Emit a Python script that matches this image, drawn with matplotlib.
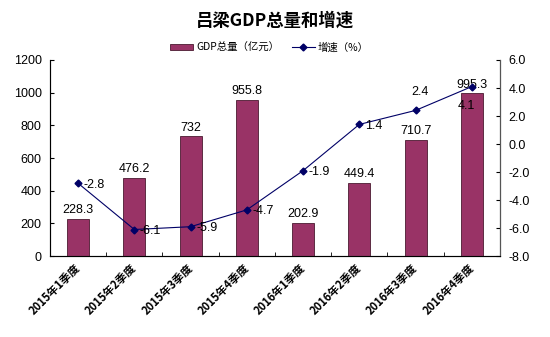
import numpy as np
import matplotlib.pyplot as plt

plt.rcParams['font.family'] = ['Liberation Sans', 'Noto Sans CJK SC', 'DejaVu Sans']

quarters = ['2015年1季度', '2015年2季度', '2015年3季度', '2015年4季度',
            '2016年1季度', '2016年2季度', '2016年3季度', '2016年4季度']
gdp = [228.3, 476.2, 732, 955.8, 202.9, 449.4, 710.7, 995.3]
growth = [-2.8, -6.1, -5.9, -4.7, -1.9, 1.4, 2.4, 4.1]
gdp_text = ['228.3', '476.2', '732', '955.8', '202.9', '449.4', '710.7', '995.3']
growth_text = ['-2.8', '-6.1', '-5.9', '-4.7', '-1.9', '1.4', '2.4', '4.1']

bar_color = '#993366'
line_color = '#000066'
cjk = ['Noto Sans CJK SC', 'DejaVu Sans']

fig = plt.figure(figsize=(5.5, 3.37), dpi=100)
ax1 = fig.add_axes([0.0909, 0.240, 0.818, 0.582])
x = np.arange(len(quarters))

bars = ax1.bar(x, gdp, width=0.39, color=bar_color, edgecolor='#4a1a30',
               linewidth=0.6, zorder=2, label='GDP总量（亿元）')
ax1.set_xlim(-0.5, len(quarters) - 0.5)
ax1.set_ylim(0, 1200)
ax1.set_yticks(range(0, 1201, 200))
ax1.tick_params(axis='y', direction='in', length=3, labelsize=9, pad=6)
ax1.set_xticks(x - 0.08)
ax1.set_xticklabels(quarters, rotation=45, ha='right', rotation_mode='anchor',
                    fontsize=8, fontweight='bold', family=cjk)
ax1.tick_params(axis='x', length=0, pad=4)
ax1.set_xticks(np.arange(0.5, len(quarters) - 0.5, 1), minor=True)
ax1.tick_params(axis='x', which='minor', direction='in', length=3)
ax1.spines['top'].set_visible(False)
for s in ['left', 'bottom']:
    ax1.spines[s].set_color('#555555')

for xi, v, t in zip(x, gdp, gdp_text):
    ax1.text(xi, v + 18, t, ha='center', va='bottom', fontsize=9)

ax2 = ax1.twinx()
ax2.plot(x, growth, color=line_color, linewidth=0.8, marker='D',
         markersize=3.5, zorder=3, label='增速（%）')
ax2.set_ylim(-8, 6)
ax2.set_yticks(np.arange(-8, 6.1, 2))
ax2.set_yticklabels([f'{v:.1f}' for v in np.arange(-8, 6.1, 2)])
ax2.tick_params(axis='y', direction='in', length=3, labelsize=9, pad=6)
ax2.spines['top'].set_visible(False)
ax2.spines['right'].set_color('#555555')

for xi, v, t in zip(x, growth, growth_text):
    if t == '2.4':
        ax2.annotate(t, (xi, v), xytext=(3, 9), textcoords='offset points',
                     ha='center', va='bottom', fontsize=9)
    elif t == '4.1':
        ax2.annotate(t, (xi, v), xytext=(-4, -10), textcoords='offset points',
                     ha='center', va='top', fontsize=9)
    else:
        ax2.annotate(t, (xi, v), xytext=(4, -1), textcoords='offset points',
                     ha='left', va='center', fontsize=9)

fig.text(0.5, 0.94, '吕梁GDP总量和增速', ha='center', va='center',
         fontsize=12.5, fontweight='bold', family=cjk)

h1, l1 = ax1.get_legend_handles_labels()
h2, l2 = ax2.get_legend_handles_labels()
fig.legend(h1 + h2, l1 + l2, loc='center', bbox_to_anchor=(0.49, 0.86),
           ncol=2, frameon=False, handlelength=2.2, handleheight=0.5,
           columnspacing=1.2, handletextpad=0.3,
           prop={'family': cjk, 'size': 7.5})

fig.savefig('out.png', dpi=100, facecolor='white')
